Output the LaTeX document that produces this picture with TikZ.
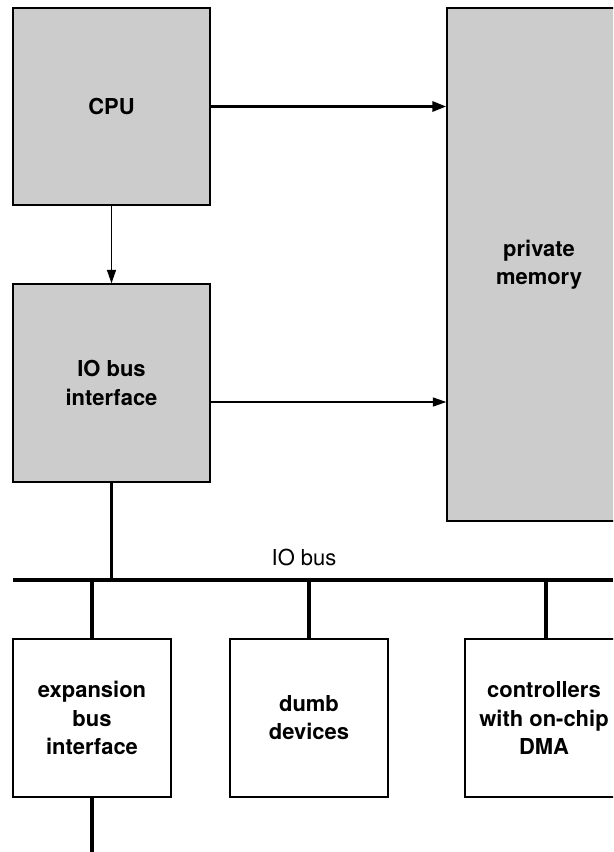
\documentclass[tikz,border=0pt]{standalone}
\usepackage{fontspec}
\setmainfont{TeX Gyre Heros}
\usetikzlibrary{arrows.meta}
\definecolor{boxgray}{RGB}{204,204,204}

\begin{document}
\begin{tikzpicture}[x=0.02cm,y=-0.02cm]

\tikzset{unit/.style = {shape=rectangle,draw,line width=0.8pt,align=center,
  font=\fontsize{12.5}{16}\selectfont\bfseries,inner sep=0pt}}
\tikzset{grayunit/.style = {unit,fill=boxgray}}
\tikzset{edge/.style = {line width=0.8pt,-{Triangle[length=0.27cm,width=0.18cm]}}}
\tikzset{thickedge/.style = {line width=1.7pt,-{Triangle[length=0.28cm,width=0.2cm]}}}
\tikzset{busline/.style = {line width=1.8pt}}

\useasboundingbox (0,0) rectangle (613,852);
\clip (0,0) rectangle (613,852);

% boxes
\node[grayunit,minimum width=3.94cm,minimum height=3.94cm] (cpu) at (111.5,106.5) {CPU};
\node[grayunit,minimum width=3.94cm,minimum height=3.96cm] (iobi) at (111.5,383) {IO bus\\interface};
\node[grayunit,minimum width=3.68cm,minimum height=10.26cm] (mem) at (539,264.5) {private\\memory};
\node[unit,minimum width=3.16cm,minimum height=3.16cm] (exp) at (92,718) {expansion\\bus\\interface};
\node[unit,minimum width=3.16cm,minimum height=3.16cm] (dumb) at (309,718) {dumb\\devices};
\node[unit,minimum width=3.16cm,minimum height=3.16cm] (ctrl) at (544,718) {controllers\\with on-chip\\DMA};

% bus
\coordinate (busL) at (13,580);
\coordinate (busR) at (613,580);
\coordinate (expout) at (92,852);
\coordinate (iobiout) at (210,402);
\node[font=\fontsize{12.5}{16}\selectfont,anchor=south,inner sep=0pt] (buslabel) at (304,566) {IO bus};

% edges
\draw[thickedge] (cpu.east) -- (cpu.east -| mem.west);
\draw[edge] (cpu.south) -- (iobi.north);
\draw[edge] (iobiout) -- (iobiout -| mem.west);

\draw[busline] (busL) -- (busR);
\draw[busline] (iobi.south) -- (iobi.south |- busL);
\draw[busline] (exp.north) -- (exp.north |- busL);
\draw[busline] (dumb.north) -- (dumb.north |- busL);
\draw[busline] ([xshift=0.04cm]ctrl.north) -- ([xshift=0.04cm]ctrl.north |- busL);
\draw[busline] (exp.south) -- (expout);
\end{tikzpicture}
\end{document}
